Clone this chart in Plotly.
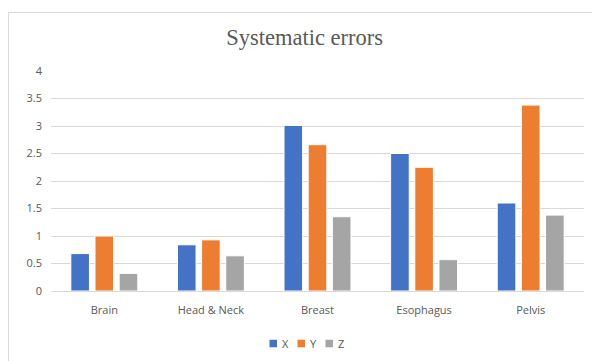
import plotly.graph_objects as go

# Systematic setup errors per treatment site, by axis
sites = ["Brain", "Head & Neck", "Breast", "Esophagus", "Pelvis"]
x_err = [0.68, 0.84, 3.01, 2.50, 1.60]
y_err = [1.00, 0.93, 2.66, 2.25, 3.38]
z_err = [0.32, 0.64, 1.35, 0.57, 1.38]

series = [("X", x_err, "#4472C4"), ("Y", y_err, "#ED7D31"), ("Z", z_err, "#A5A5A5")]

text_color = "#595959"
grid_color = "#D9D9D9"
label_font = dict(family="Open Sans, Noto Sans, sans-serif", size=11, color=text_color)

fig = go.Figure()
for name, vals, color in series:
    fig.add_trace(go.Bar(
        x=sites, y=vals, name=name,
        marker=dict(color=color, line=dict(color="white", width=1)),
        showlegend=False,
    ))

L, R, T, B = 51, 8, 71, 70
W, H = 592, 361
pw, ph = W - L - R, H - T - B


def px_x(px):
    return (px - L) / pw


def px_y(py):
    return (H - B - py) / ph


shapes = [dict(
    type="rect", xref="paper", yref="paper",
    x0=px_x(8.5), x1=px_x(W + 20),
    y0=px_y(H + 20), y1=px_y(12.5),
    line=dict(color=grid_color, width=1), fillcolor="rgba(0,0,0,0)",
    layer="below",
)]
annotations = []

# Compact legend row beneath the axis: small square swatch + series name
leg_x0, leg_pitch, leg_y, sw = 269.5, 28, 343.5, 7.5
for i, (name, _, color) in enumerate(series):
    x0 = leg_x0 + i * leg_pitch
    shapes.append(dict(
        type="rect", xref="paper", yref="paper",
        x0=px_x(x0), x1=px_x(x0 + sw),
        y0=px_y(leg_y + sw / 2), y1=px_y(leg_y - sw / 2),
        line=dict(width=0), fillcolor=color,
    ))
    annotations.append(dict(
        text=name, xref="paper", yref="paper", showarrow=False,
        x=px_x(x0 + sw + 3), xanchor="left",
        y=px_y(leg_y), yanchor="middle",
        font=label_font,
    ))

fig.update_layout(
    width=W, height=H,
    margin=dict(l=L, r=R, t=T, b=B),
    paper_bgcolor="white", plot_bgcolor="white",
    barmode="group", bargap=0.32, bargroupgap=0.23,
    showlegend=False,
    title=dict(
        text="Systematic errors", x=304.7 / W, xanchor="center",
        xref="container", y=1 - 37 / H, yanchor="middle",
        font=dict(family="Liberation Serif, Times New Roman, serif", size=22.5, color=text_color),
    ),
    xaxis=dict(
        showgrid=False, showline=False, ticks="", tickfont=label_font,
        ticklabelstandoff=11,
    ),
    yaxis=dict(
        range=[0, 4], dtick=0.5, showgrid=True, gridcolor=grid_color,
        zeroline=True, zerolinecolor=grid_color, zerolinewidth=1,
        showline=False, ticks="", tickfont=label_font, ticklabelstandoff=8,
    ),
    shapes=shapes,
    annotations=annotations,
)

fig.write_html("out.html")
